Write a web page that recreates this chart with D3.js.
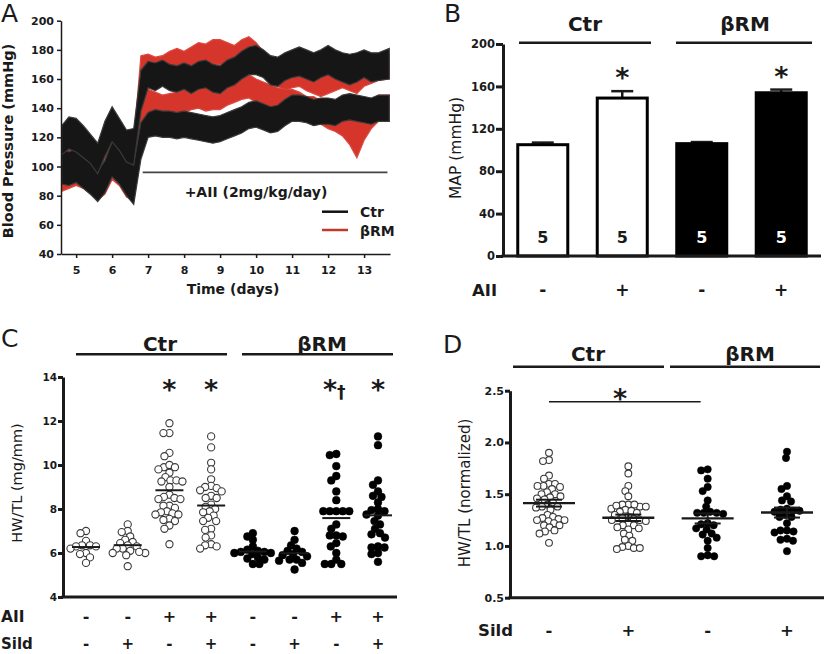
<!DOCTYPE html>
<html><head><meta charset="utf-8">
<script src="https://cdn.jsdelivr.net/npm/d3@7/dist/d3.min.js"></script>
<style>body{margin:0;background:#fff}svg{display:block}</style>
</head><body><svg id="c" width="827" height="654"></svg>
<script>
// ---------- Panel A data (telemetry envelope, low/high per time point) ----------
const timeDays = [4.6,4.8,5.0,5.2,5.4,5.6,5.8,6.0,6.2,6.4,6.6,6.8,7.0,7.2,7.4,7.6,7.8,8.0,8.2,8.4,8.6,8.8,9.0,9.2,9.4,9.6,9.8,10.0,10.2,10.4,10.6,10.8,11.0,11.2,11.4,11.6,11.8,12.0,12.2,12.4,12.6,12.8,13.0,13.2,13.4,13.7];
const ctrUpperLo = [108,112,110,106,102,95,107,117,111,103,101,138,154,152,155,152,151,153,150,153,154,151,150,154,156,160,163,163,161,156,155,159,161,162,160,158,161,163,160,158,156,158,161,158,159,160];
const ctrUpperHi = [128,134,133,128,122,116,131,141,133,125,126,166,172,171,173,170,169,171,169,172,173,170,169,173,175,179,182,183,180,176,175,178,180,182,180,178,180,183,180,178,177,178,180,178,178,181];
const ctrLowerLo = [88,87,89,85,81,76,82,93,88,80,74,105,120,121,120,120,119,120,119,118,117,116,117,119,121,123,126,127,125,123,124,128,131,131,130,128,129,129,128,131,132,131,130,129,131,131];
const ctrLowerHi = [112,110,112,107,103,97,104,117,112,104,102,130,137,139,138,138,137,138,137,136,135,134,135,137,139,141,144,145,143,141,142,146,149,149,148,146,147,147,146,149,150,149,148,147,149,149];
const rmUpperLo = [101,107,109,105,99,93,105,113,107,99,95,140,160,157,159,161,164,162,165,168,167,170,170,168,166,170,172,168,162,158,155,152,154,155,152,150,148,150,152,154,152,150,155,157,159,160];
const rmUpperHi = [123,127,129,123,117,111,125,135,127,119,117,176,177,175,176,179,181,179,182,185,184,187,187,185,183,187,189,185,179,175,172,169,171,172,169,167,165,167,169,171,169,167,172,174,176,177];
const rmLowerLo = [83,85,87,85,81,77,81,91,87,79,77,118,137,135,133,134,135,137,139,140,138,139,139,142,144,146,147,144,142,140,138,137,137,135,132,132,129,126,124,121,115,106,118,126,131,131];
const rmLowerHi = [107,107,109,105,99,95,101,113,109,101,99,150,153,151,149,150,151,153,155,156,154,155,155,158,160,162,163,160,158,156,154,153,153,151,148,148,145,144,142,139,135,132,138,144,149,149];
const aTicksX = [5,6,7,8,9,10,11,12,13];
const aTicksY = [40,60,80,100,120,140,160,180,200];
const aiiStartDay = 6.85, aiiEndDay = 13.65, aiiLineBP = 96;

// ---------- Panel B data ----------
const mapBars = ["Ctr -AII","Ctr +AII","βRM -AII","βRM +AII"];
const mapGenotype = ["Ctr","Ctr","βRM","βRM"];
const mapMean = [105,149,106,154];
const mapSem = [2,6.5,1.5,3];
const mapN = [5,5,5,5];
const mapAII = ["-","+","-","+"];
const mapSig = ["","*","","*"];
const bTicks = [0,40,80,120,160,200];

// ---------- Panel C data (HW/TL, mg/mm) ----------
const cGroups = ["Ctr","Ctr Sild","Ctr AII","Ctr AII Sild","βRM","βRM Sild","βRM AII","βRM AII Sild"];
const cGenotype = ["Ctr","Ctr","Ctr","Ctr","βRM","βRM","βRM","βRM"];
const cCtr = [7.0,6.9,6.55,6.35,6.3,6.35,6.2,6.0,5.95,5.8,5.55,6.3];
const cCtrSild = [7.3,7.0,6.95,6.75,6.6,6.5,6.45,6.35,6.3,6.2,6.2,6.1,6.0,6.0,6.05,5.9,5.4];
const cCtrAII = [11.9,11.45,11.45,10.55,10.4,9.9,10.0,9.9,9.8,9.65,9.45,9.25,9.3,9.3,9.25,9.0,8.65,8.55,8.5,8.45,8.45,8.15,8.15,8.05,7.9,7.85,7.8,7.75,7.75,7.55,7.5,7.45,7.25,7.1,6.4];
const cCtrAIISild = [11.3,10.8,10.1,9.8,9.35,9.05,9.0,8.95,8.85,8.8,8.6,8.5,8.5,8.2,8.1,8.0,7.9,7.85,7.7,7.6,7.45,7.45,7.1,7.05,6.8,6.7,6.4,6.35,6.3,6.2];
const cRM = [6.9,6.75,6.6,6.3,6.15,6.1,6.05,6.05,6.0,6.0,5.95,5.8,5.75,5.7,5.5,5.5];
const cRMSild = [7.0,6.6,6.35,6.2,6.1,6.05,5.95,5.9,5.85,5.7,5.7,5.65,5.55,5.25];
const cRMAII = [10.5,10.45,9.95,9.5,9.3,8.8,8.4,7.9,7.9,7.9,7.9,7.9,7.3,7.1,6.8,6.8,6.75,6.45,6.3,6.0,5.7,5.5,5.5,5.5];
const cRMAIISild = [11.3,10.9,9.3,9.1,8.8,8.6,8.55,8.3,8.0,7.95,7.9,7.75,7.7,7.45,7.3,7.1,6.9,6.85,6.7,6.3,6.25,6.25,6.0,5.95,5.6];
const cAII = ["-","-","+","+","-","-","+","+"];
const cSild = ["-","+","-","+","-","+","-","+"];
const cSig = ["","","*","*","","","*†","*"];
const cTicks = [4,6,8,10,12,14];

// ---------- Panel D data (HW/TL normalized) ----------
const dGroups = ["Ctr","Ctr Sild","βRM","βRM Sild"];
const dGenotype = ["Ctr","Ctr","βRM","βRM"];
const dCtr = [1.9,1.83,1.82,1.68,1.65,1.6,1.6,1.58,1.58,1.57,1.55,1.52,1.5,1.5,1.48,1.47,1.46,1.45,1.42,1.4,1.38,1.38,1.37,1.35,1.3,1.28,1.27,1.26,1.25,1.25,1.24,1.22,1.2,1.2,1.18,1.15,1.14,1.12,1.03];
const dCtrSild = [1.77,1.70,1.58,1.53,1.48,1.38,1.36,1.40,1.40,1.40,1.39,1.38,1.35,1.34,1.33,1.32,1.30,1.28,1.27,1.26,1.25,1.25,1.24,1.22,1.20,1.20,1.18,1.17,1.16,1.12,1.10,1.06,1.05,1.00,0.99,0.98,0.97,0.98];
const dRM = [1.74,1.73,1.65,1.57,1.53,1.44,1.38,1.33,1.32,1.32,1.32,1.31,1.22,1.21,1.2,1.17,1.16,1.12,1.11,1.08,1.05,0.98,0.91,0.9,0.9];
const dRMSild = [1.91,1.85,1.58,1.55,1.48,1.44,1.43,1.36,1.35,1.34,1.34,1.33,1.3,1.28,1.28,1.22,1.15,1.15,1.14,1.13,1.07,1.06,1.05,0.95];
const dSild = ["-","+","-","+"];
const dTicks = [0.5,1.0,1.5,2.0,2.5];

// ================= drawing =================
const svg = d3.select("#c");
const FB = "'DejaVu Sans', Verdana, sans-serif";
const INK = "#1a1a1a";

function txt(g, x, y, s, o = {}) {
  return g.append("text").attr("x", x).attr("y", y).text(s)
    .attr("font-family", o.ff || FB).attr("font-size", o.fs || 14)
    .attr("font-weight", o.fw || "bold").attr("fill", o.fill || INK)
    .attr("text-anchor", o.anchor || "middle");
}
function rtxt(g, x, y, s, o = {}) {
  return g.append("text").attr("transform", `translate(${x},${y}) rotate(-90)`).text(s)
    .attr("font-family", o.ff || FB).attr("font-size", o.fs || 14)
    .attr("font-weight", o.fw || "normal").attr("fill", INK).attr("text-anchor", "middle");
}
function styleAxis(g, w, fs) {
  g.select(".domain").attr("stroke", INK).attr("stroke-width", w);
  g.selectAll(".tick line").attr("stroke", INK).attr("stroke-width", w);
  g.selectAll(".tick text").attr("font-family", FB).attr("font-size", fs).attr("font-weight", "bold").attr("fill", INK);
}
function hline(g, x1, x2, y, w, col) {
  g.append("line").attr("x1", x1).attr("x2", x2).attr("y1", y).attr("y2", y)
    .attr("stroke", col || INK).attr("stroke-width", w);
}
// beeswarm layout (points may overlap slightly, like the original scatter)
function dodge(vals, yScale, md) {
  const pts = vals.map(v => ({ v, y: yScale(v), x: 0 }));
  const order = pts.slice().sort((a, b) => a.y - b.y);
  const placed = [];
  for (const p of order) {
    let off = 0;
    for (let k = 0; k < 400; k++) {
      const o = k === 0 ? 0 : (k % 2 ? -1 : 1) * Math.ceil(k / 2) * 0.5;
      if (placed.every(q => (q.x - o) ** 2 + (q.y - p.y) ** 2 >= md * md)) { off = o; break; }
    }
    p.x = off; placed.push(p);
  }
  return pts;
}

// ---------------- Panel A ----------------
{
  const g = svg.append("g");
  const x = d3.scaleLinear().domain([4.58, 13.72]).range([61, 390]);
  const y = d3.scaleLinear().domain([40, 200]).range([254, 20.7]);
  const band = (lo, hi) => d3.area().x((d, i) => x(timeDays[i])).y0((d, i) => y(lo[i])).y1((d, i) => y(hi[i]))(timeDays);
  const traces = [
    [rmUpperLo, rmUpperHi, "#d5352a", "#dd4a40"],
    [rmLowerLo, rmLowerHi, "#d5352a", "#dd4a40"],
    [ctrLowerLo, ctrLowerHi, "#161616", "#3a3a3a"],
    [ctrUpperLo, ctrUpperHi, "#161616", "#3a3a3a"]
  ];
  traces.forEach(([lo, hi, col, edge]) => {
    g.append("path").attr("d", band(lo, hi)).attr("fill", col)
      .attr("stroke", edge).attr("stroke-width", 1.2).attr("stroke-linejoin", "miter");
  });
  const ax = g.append("g").attr("transform", "translate(61,0)")
    .call(d3.axisLeft(y).tickValues(aTicksY).tickSize(4).tickSizeOuter(0).tickPadding(3));
  styleAxis(ax, 1.5, 11);
  const bx = g.append("g").attr("transform", "translate(0,254)")
    .call(d3.axisBottom(x).tickValues(aTicksX).tickSize(4).tickSizeOuter(0).tickPadding(8));
  styleAxis(bx, 1.5, 11);
  rtxt(g, 13, 141, "Blood Pressure (mmHg)", { fs: 14.5, fw: "bold" });
  txt(g, 233, 294, "Time (days)", { fs: 14 });
  hline(g, x(aiiStartDay), x(aiiEndDay), y(aiiLineBP), 1.6, "#444");
  txt(g, 256, 197, "+AII (2mg/kg/day)", { fs: 14 });
  hline(g, 322, 348, 211.7, 2.5, "#111");
  hline(g, 322, 348, 230, 2.5, "#c0392b");
  txt(g, 360, 217, "Ctr", { fs: 14, anchor: "start" });
  txt(g, 360, 235.5, "βRM", { fs: 14, anchor: "start" });
  txt(g, 1, 22, "A", { fs: 25, fw: "normal", anchor: "start" });
}

// ---------------- Panel B ----------------
{
  const g = svg.append("g");
  const x = d3.scaleBand().domain(mapBars).range([503, 821]).paddingInner(0.333).paddingOuter(0.1667);
  const y = d3.scaleLinear().domain([0, 200]).range([256, 44]);
  mapBars.forEach((b, i) => {
    const x0 = x(b), bw = x.bandwidth(), cx = x0 + bw / 2;
    const dark = mapGenotype[i] === "βRM";
    g.append("line").attr("x1", cx).attr("x2", cx).attr("y1", y(mapMean[i])).attr("y2", y(mapMean[i] + mapSem[i]))
      .attr("stroke", INK).attr("stroke-width", 2.5);
    hline(g, cx - 11, cx + 11, y(mapMean[i] + mapSem[i]), 2.5);
    g.append("rect").attr("x", x0 + 1.5).attr("y", y(mapMean[i])).attr("width", bw - 3).attr("height", y(0) - y(mapMean[i]))
      .attr("fill", dark ? "#000" : "#fff").attr("stroke", "#000").attr("stroke-width", 3);
    txt(g, cx, 243, String(mapN[i]), { fs: 16, fill: dark ? "#fff" : INK });
    if (mapSig[i]) txt(g, cx, y(mapMean[i] + mapSem[i]) - 4, mapSig[i], { fs: 27 });
    txt(g, cx, 296, mapAII[i], { fs: 17 });
  });
  const ay = g.append("g").attr("transform", "translate(503,0)")
    .call(d3.axisLeft(y).tickValues(bTicks).tickSize(7).tickSizeOuter(0).tickPadding(1));
  styleAxis(ay, 3, 11.5);
  hline(g, 501.5, 821, 256, 3);
  rtxt(g, 461, 148, "MAP (mmHg)", { fs: 15.5 });
  txt(g, 472, 296, "AII", { fs: 16.5, anchor: "start" });
  hline(g, 519, 651, 42.7, 2.5);
  hline(g, 676, 812, 42.7, 2.5);
  txt(g, 585, 31, "Ctr", { fs: 20 });
  txt(g, 745, 31, "βRM", { fs: 20 });
  txt(g, 444, 22, "B", { fs: 25, fw: "normal", anchor: "start" });
}

// ---------------- Panel C ----------------
{
  const g = svg.append("g");
  const x = d3.scalePoint().domain(cGroups).range([86, 378]);
  const y = d3.scaleLinear().domain([4, 14]).range([597, 377]);
  const cData = [cCtr, cCtrSild, cCtrAII, cCtrAIISild, cRM, cRMSild, cRMAII, cRMAIISild];
  cGroups.forEach((grp, i) => {
    const cx = x(grp);
    const dark = cGenotype[i] === "βRM";
    const r = dark ? 3.9 : 3.6;
    const pts = dodge(cData[i], y, 2 * r * 0.82);
    g.append("g").selectAll("circle").data(pts).join("circle")
      .attr("cx", d => cx + d.x).attr("cy", d => d.y).attr("r", r)
      .attr("fill", dark ? "#000" : "#fff").attr("stroke", dark ? "#000" : "#3a3a3a").attr("stroke-width", dark ? 0.5 : 1.1);
    const m = d3.mean(cData[i]);
    hline(g, cx - 14, cx + 14, y(m), 2);
    if (cSig[i]) {
      if (cSig[i].length > 1) {
        const t = txt(g, cx - 2, y(13.6) + 13, "", { fs: 27 });
        t.append("tspan").text("*");
        t.append("tspan").text("†").attr("font-size", 17).attr("dy", -1);
      } else txt(g, cx, y(13.6) + 13, cSig[i], { fs: 27 });
    }
    txt(g, cx, 622, cAII[i], { fs: 16 });
    txt(g, cx, 649, cSild[i], { fs: 15 });
  });
  const ay = g.append("g").attr("transform", "translate(63,0)")
    .call(d3.axisLeft(y).tickValues(cTicks).tickSize(5).tickSizeOuter(0).tickPadding(1));
  styleAxis(ay, 3, 10.5);
  hline(g, 61.5, 397, 597, 3);
  rtxt(g, 22, 483, "HW/TL (mg/mm)", { fs: 14.5 });
  txt(g, 1, 622, "AII", { fs: 15.5, anchor: "start" });
  txt(g, 1, 649, "Sild", { fs: 15, anchor: "start" });
  hline(g, 76, 227, 354.3, 2.5);
  hline(g, 242, 393, 354.3, 2.5);
  txt(g, 160, 351, "Ctr", { fs: 20 });
  txt(g, 322, 351, "βRM", { fs: 20 });
  txt(g, 1, 347, "C", { fs: 25, fw: "normal", anchor: "start" });
}

// ---------------- Panel D ----------------
{
  const g = svg.append("g");
  const x = d3.scalePoint().domain(dGroups).range([549, 787]);
  const y = d3.scaleLinear().domain([0.5, 2.5]).range([597.7, 390.7]);
  const dData = [dCtr, dCtrSild, dRM, dRMSild];
  dGroups.forEach((grp, i) => {
    const cx = x(grp);
    const dark = dGenotype[i] === "βRM";
    const r = dark ? 3.7 : 3.4;
    const pts = dodge(dData[i], y, 2 * r * 0.85);
    g.append("g").selectAll("circle").data(pts).join("circle")
      .attr("cx", d => cx + d.x).attr("cy", d => d.y).attr("r", r)
      .attr("fill", dark ? "#000" : "#fff").attr("stroke", dark ? "#000" : "#3a3a3a").attr("stroke-width", dark ? 0.5 : 1.1);
    const m = d3.mean(dData[i]);
    const se = d3.deviation(dData[i]) / Math.sqrt(dData[i].length);
    g.append("line").attr("x1", cx).attr("x2", cx).attr("y1", y(m - se)).attr("y2", y(m + se)).attr("stroke", INK).attr("stroke-width", 2);
    hline(g, cx - 13, cx + 13, y(m - se), 2);
    hline(g, cx - 13, cx + 13, y(m + se), 2);
    hline(g, cx - 26, cx + 26, y(m), 2.4);
    txt(g, cx, 636, dSild[i], { fs: 16.5 });
  });
  const ay = g.append("g").attr("transform", "translate(510,0)")
    .call(d3.axisLeft(y).tickValues(dTicks).tickSize(5).tickSizeOuter(0).tickPadding(1).tickFormat(d3.format(".1f")));
  styleAxis(ay, 3, 11);
  hline(g, 508.5, 824, 597.7, 3);
  rtxt(g, 470, 493, "HW/TL (normalized)", { fs: 15 });
  txt(g, 478, 636, "Sild", { fs: 16.5, anchor: "start" });
  hline(g, x(dGroups[0]), x(dGroups[2]) - 7, 401.7, 1.4);
  txt(g, 620, 408, "*", { fs: 27 });
  hline(g, 513, 664, 366.7, 2.5);
  hline(g, 670, 820, 366.7, 2.5);
  txt(g, 588, 361, "Ctr", { fs: 20 });
  txt(g, 750, 361, "βRM", { fs: 20 });
  txt(g, 443, 353, "D", { fs: 25, fw: "normal", anchor: "start" });
}
</script></body></html>
